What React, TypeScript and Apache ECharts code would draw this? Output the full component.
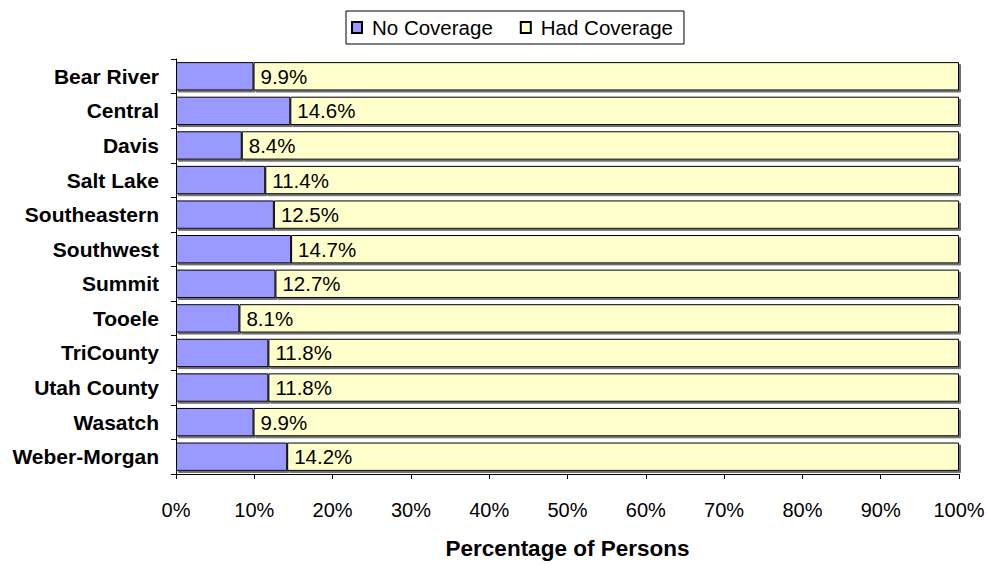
import React, { useEffect, useRef } from "react";
import * as echarts from "echarts";

const categories = [
  "Bear River",
  "Central",
  "Davis",
  "Salt Lake",
  "Southeastern",
  "Southwest",
  "Summit",
  "Tooele",
  "TriCounty",
  "Utah County",
  "Wasatch",
  "Weber-Morgan",
];
const noCoverage = [9.9, 14.6, 8.4, 11.4, 12.5, 14.7, 12.7, 8.1, 11.8, 11.8, 9.9, 14.2];
const hadCoverage = [90.1, 85.4, 91.6, 88.6, 87.5, 85.3, 87.3, 91.9, 88.2, 88.2, 90.1, 85.8];
const xTicks = [0, 10, 20, 30, 40, 50, 60, 70, 80, 90, 100];

const FONT = "'Liberation Sans', Arial, sans-serif";

export default function App() {
  const ref = useRef<HTMLDivElement>(null);
  useEffect(() => {
    document.body.style.margin = "0";
    if (!ref.current) return;
    const chart = echarts.init(ref.current, null, { renderer: "svg" });
    const shadow = {
      shadowColor: "#6e6e6e",
      shadowOffsetX: 2,
      shadowOffsetY: 2,
      shadowBlur: 0,
    };
    chart.setOption({
      animation: false,
      backgroundColor: "#ffffff",
      textStyle: { fontFamily: FONT },
      legend: {
        left: 346,
        top: 11,
        padding: [6, 11, 6, 5],
        borderColor: "#000",
        borderWidth: 1,
        backgroundColor: "#fff",
        itemWidth: 10,
        itemHeight: 11,
        itemGap: 27,
        icon: "rect",
        textStyle: { fontSize: 20.5, color: "#000", fontFamily: FONT, padding: [0, 0, 0, 5] },
        data: ["No Coverage", "Had Coverage"],
      },
      grid: { left: 176, right: 29, top: 59, bottom: 80, containLabel: false },
      xAxis: {
        type: "value",
        min: 0,
        max: 100,
        interval: 10,
        name: "Percentage of Persons",
        nameLocation: "middle",
        nameGap: 63,
        nameTextStyle: { fontSize: 22.5, fontWeight: "bold", color: "#000", fontFamily: FONT },
        axisLine: { show: true, lineStyle: { color: "#000", width: 1 } },
        axisTick: { show: true, length: 5, lineStyle: { color: "#000" } },
        splitLine: { show: false },
        axisLabel: {
          fontSize: 20,
          color: "#000",
          margin: 26,
          fontFamily: FONT,
          formatter: (v: number) => (xTicks.includes(v) ? v + "%" : ""),
        },
      },
      yAxis: {
        type: "category",
        inverse: true,
        data: categories,
        axisLine: { show: true, lineStyle: { color: "#000", width: 1 } },
        axisTick: { show: true, length: 5, lineStyle: { color: "#000" } },
        axisLabel: {
          fontSize: 21,
          fontWeight: "bold",
          color: "#000",
          margin: 17,
          fontFamily: FONT,
        },
      },
      series: [
        {
          name: "No Coverage",
          type: "bar",
          stack: "total",
          barCategoryGap: "18%",
          data: noCoverage,
          itemStyle: { color: "#9999FF", borderColor: "#000", borderWidth: 1, ...shadow },
        },
        {
          name: "Had Coverage",
          type: "bar",
          stack: "total",
          barCategoryGap: "18%",
          data: hadCoverage,
          itemStyle: { color: "#FFFFCC", borderColor: "#000", borderWidth: 1, ...shadow },
          label: {
            show: true,
            position: "insideLeft",
            distance: 7,
            fontSize: 20.5,
            color: "#000",
            fontFamily: FONT,
            formatter: (p: any) => noCoverage[p.dataIndex].toFixed(1) + "%",
          },
        },
      ],
    });
    return () => chart.dispose();
  }, []);
  return <div ref={ref} style={{ width: 988, height: 565 }} />;
}
